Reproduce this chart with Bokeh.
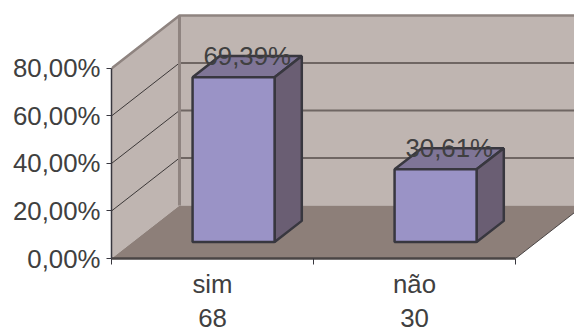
from bokeh.plotting import figure
from bokeh.models import Range1d, FixedTicker, LinearAxis
from bokeh.core.properties import value
from bokeh.embed import file_html
from bokeh.resources import INLINE

categories = ["sim", "não"]
counts = ["68", "30"]
shares = [69.39, 30.61]
share_labels = ["69,39%", "30,61%"]
y_ticks = [0, 20, 40, 60, 80]
y_tick_labels = ["0,00%", "20,00%", "40,00%", "60,00%", "80,00%"]

FONT = "Liberation Sans"
TEXT = "#404040"
SIZE = "25.8px"

# Oblique projection: depth 1 is the back wall of the box
DX, DY = 0.3366, 22.3
BAR_W = 0.406
D_FRONT, D_BACK = 0.31, 0.71


def proj(x, y, d):
    return x + d * DX, y + d * DY


def face(points):
    pts = [proj(*pt) for pt in points]
    return [a for a, _ in pts], [b for _, b in pts]


p = figure(width=574, height=329, output_backend="svg", toolbar_location=None,
           x_range=Range1d(0, 2.292), y_range=Range1d(0, 108.6),
           min_border_left=111, min_border_right=0, min_border_top=0, min_border_bottom=0,
           x_axis_type=None, y_axis_type=None)
p.grid.visible = False
p.outline_line_color = None
p.background_fill_color = "white"

WALL, FLOOR, EDGE = "#bfb5b1", "#8d7f79", "#8f8480"
top = y_ticks[-1]

# Walls and floor
xs, ys = face([(0, 0, 0), (0, top, 0), (0, top, 1), (0, 0, 1)])
p.patch(xs, ys, fill_color=WALL, line_color=None)
xs, ys = face([(0, 0, 1), (0, top, 1), (3, top, 1), (3, 0, 1)])
p.patch(xs, ys, fill_color=WALL, line_color=None)
xs, ys = face([(0, 0, 0), (2, 0, 0), (2, 0, 1), (0, 0, 1)])
p.patch(xs, ys, fill_color=FLOOR, line_color=None)

# Gridlines running along the side wall and the back wall
for t in y_ticks[1:-1]:
    xs, ys = face([(0, t, 0), (0, t, 1), (3, t, 1)])
    p.line(xs[:2], ys[:2], line_color="#3c3838", line_width=1)
    p.line(xs[1:], ys[1:], line_color="#6f6663", line_width=2)

# Wall borders
xs, ys = face([(0, top, 0), (0, top, 1), (3, top, 1)])
p.line(xs, ys, line_color=EDGE, line_width=2.5)
xs, ys = face([(0, 0, 1), (0, top, 1)])
p.line(xs, ys, line_color=EDGE, line_width=3)
xs, ys = face([(2, 0, 0), (2, 0, 1)])
p.line(xs, ys, line_color="#4a4545", line_width=1)

# Bars: front, top and side faces
OUT = "#38373f"
for i, v in enumerate(shares):
    x0, x1 = i + 0.5 - BAR_W / 2, i + 0.5 + BAR_W / 2
    xs, ys = face([(x0, v, D_FRONT), (x0, v, D_BACK), (x1, v, D_BACK), (x1, v, D_FRONT)])
    p.patch(xs, ys, fill_color="#7f7597", line_color=OUT, line_width=2.5)
    xs, ys = face([(x1, 0, D_FRONT), (x1, v, D_FRONT), (x1, v, D_BACK), (x1, 0, D_BACK)])
    p.patch(xs, ys, fill_color="#6a5e73", line_color=OUT, line_width=2.5)
    xs, ys = face([(x0, 0, D_FRONT), (x0, v, D_FRONT), (x1, v, D_FRONT), (x1, 0, D_FRONT)])
    p.patch(xs, ys, fill_color="#9a93c6", line_color=OUT, line_width=2.5)

# Value labels sit on the rear edge of each bar top
lx = [i + 0.5 + (D_FRONT + D_BACK) / 2 * DX for i in range(len(shares))]
ly = [v + D_BACK * DY for v in shares]
p.text(lx, ly, text=share_labels, text_font=value(FONT), text_font_size=value(SIZE),
       text_color=TEXT, text_align="center", text_baseline="middle")

# Value axis
ya = LinearAxis(ticker=FixedTicker(ticks=y_ticks), bounds=(0, top),
                major_label_overrides=dict(zip(y_ticks, y_tick_labels)))
ya.axis_line_color = "#38373f"
ya.axis_line_width = 1.5
ya.major_tick_line_color = "#38373f"
ya.major_tick_in = 0
ya.major_tick_out = 5
ya.minor_tick_line_color = None
ya.major_label_standoff = 6
ya.major_label_text_font = FONT
ya.major_label_text_font_size = SIZE
ya.major_label_text_color = TEXT
p.add_layout(ya, "left")

# Category axis: names centred between the boundary ticks
centers = [i + 0.5 for i in range(len(categories))]
bounds = list(range(len(categories) + 1))
xa = LinearAxis(ticker=FixedTicker(ticks=centers, minor_ticks=bounds), bounds=(0, 2),
                major_label_overrides=dict(zip(centers, categories)))
xa.axis_line_color = "#4a4545"
xa.axis_line_width = 2.5
xa.major_tick_line_color = None
xa.minor_tick_line_color = "#38373f"
xa.minor_tick_in = 0
xa.minor_tick_out = 6
xa.major_tick_out = 0
xa.major_label_standoff = 5
xa.major_label_text_font = FONT
xa.major_label_text_font_size = SIZE
xa.major_label_text_color = TEXT
p.add_layout(xa, "below")

# Second row under the categories: the respondent counts
ca = LinearAxis(ticker=FixedTicker(ticks=centers), bounds=(0, 2),
                major_label_overrides=dict(zip(centers, counts)))
ca.axis_line_color = None
ca.major_tick_line_color = None
ca.minor_tick_line_color = None
ca.major_tick_out = 0
ca.major_label_standoff = 8
ca.major_label_text_font = FONT
ca.major_label_text_font_size = SIZE
ca.major_label_text_color = TEXT
p.add_layout(ca, "below")

open("out.html", "w").write(file_html(p, INLINE))
